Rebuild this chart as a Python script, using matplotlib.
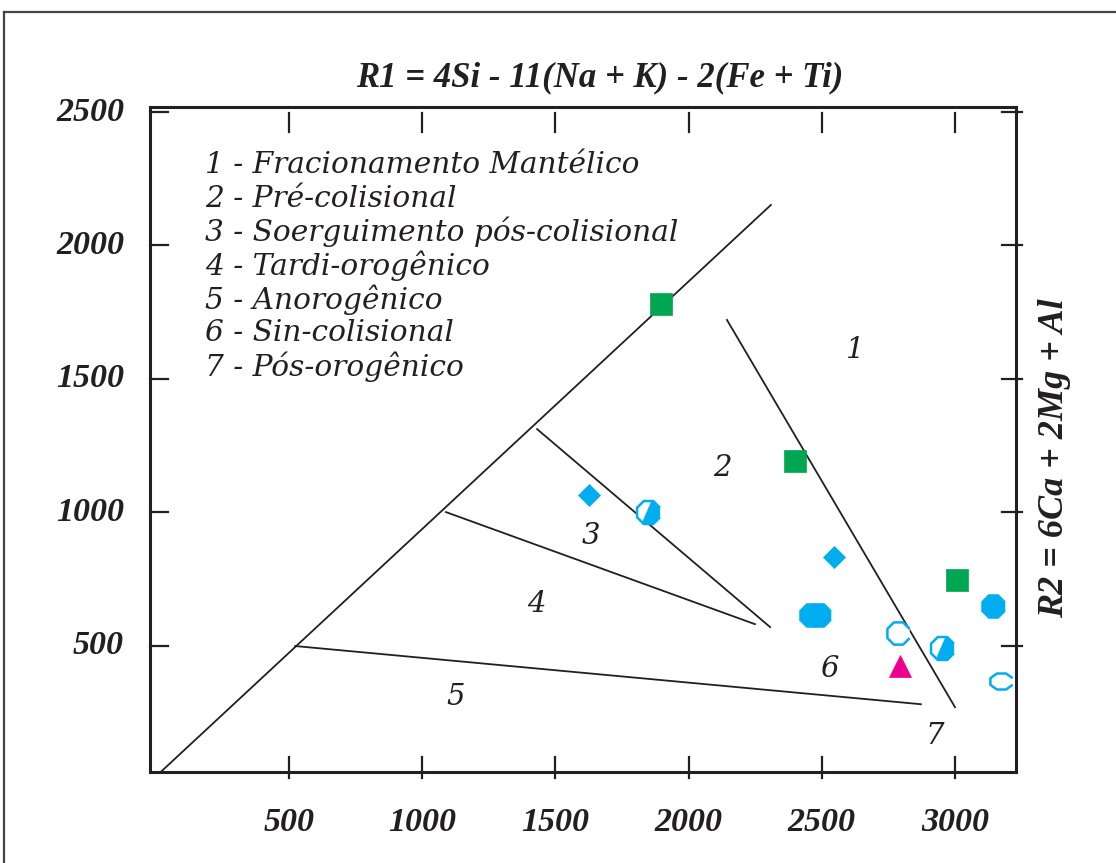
import numpy as np
import matplotlib
matplotlib.use("Agg")
import matplotlib.pyplot as plt
from matplotlib.lines import Line2D

# ---------------- data ----------------
square_r1 = [1896, 2399, 3008]
square_r2 = [1781, 1192, 746]
diamond_r1 = [1626, 2546]
diamond_r2 = [1065, 832]
filled_oct_r1 = [2459, 2489, 3143]
filled_oct_r2 = [615, 615, 649]
open_oct_r1 = [2786]
open_oct_r2 = [548]
wide_oct_r1 = [3173]
wide_oct_r2 = [368]
half_oct_r1 = [1848, 2951]
half_oct_r2 = [1001, 491]
triangle_r1 = [2794]
triangle_r2 = [424]

# field boundary lines (R1 pairs, R2 pairs)
line_main_r1 = [16, 2309]
line_main_r2 = [25, 2152]
line_12_r1 = [2144, 3000]
line_12_r2 = [1721, 270]
line_23_r1 = [1431, 2306]
line_23_r2 = [1312, 570]
line_34_r1 = [1089, 2249]
line_34_r2 = [1001, 581]
line_45_r1 = [523, 2872]
line_45_r2 = [499, 281]

field_labels = ["1", "2", "3", "4", "5", "6", "7"]
field_label_r1 = [2625, 2125, 1634, 1427, 1127, 2527, 2925]
field_label_r2 = [1608, 1166, 911, 656, 308, 413, 162]

legend_lines = [
    "1 - Fracionamento Mantélico",
    "2 - Pré-colisional",
    "3 - Soerguimento pós-colisional",
    "4 - Tardi-orogênico",
    "5 - Anorogênico",
    "6 - Sin-colisional",
    "7 - Pós-orogênico",
]

xticks = [500, 1000, 1500, 2000, 2500, 3000]
yticks = [500, 1000, 1500, 2000, 2500]
title_text = "R1 = 4Si - 11(Na + K) - 2(Fe + Ti)"
ylabel_text = "R2 = 6Ca + 2Mg + Al"

BLUE = "#00AEEF"
GREEN = "#00A651"
MAGENTA = "#EC008C"
INK = "#231F20"

# ---------------- figure ----------------
W, H = 1116, 863
fig = plt.figure(figsize=(W / 100, H / 100), dpi=100)
ax = fig.add_axes([150 / W, 1 - 772 / H, (1016 - 150) / W, (772 - 107) / H])
ax.set_xlim(-22, 3229)
ax.set_ylim(27, 2519)

# outer frame of the figure (left and top only visible)
fig.add_artist(Line2D([4 / W, 4 / W], [0, 1 - 12 / H], color="#444444", lw=1.6, transform=fig.transFigure))
fig.add_artist(Line2D([4 / W, 1.0], [1 - 12 / H, 1 - 12 / H], color="#444444", lw=1.6, transform=fig.transFigure))

for s in ax.spines.values():
    s.set_linewidth(2.2)
    s.set_color(INK)

ax.set_xticks([])
ax.set_yticks([])

# custom ticks
xt = ax.get_xaxis_transform()
yt = ax.get_yaxis_transform()
tick_kw = dict(color=INK, lw=1.6, clip_on=False)
for v in xticks:
    ax.plot([v, v], [1 - 6 / 665, 1 - 25 / 665], transform=xt, **tick_kw)    # top (detached)
    ax.plot([v, v], [-6 / 665, 15 / 665], transform=xt, **tick_kw)           # bottom (cross)
    ax.text(v, -50 / 665, str(v), transform=xt, ha="center", va="center",
            family="Liberation Serif", style="italic", weight="bold", fontsize=24.5, color=INK)
for v in yticks:
    ax.plot([0, 18 / 866], [v, v], transform=yt, **tick_kw)                  # left (in)
    ax.plot([1 - 14 / 866, 1 + 6 / 866], [v, v], transform=yt, **tick_kw)    # right (cross)
    ax.text(-26 / 866, v, str(v), transform=yt, ha="right", va="center",
            family="Liberation Serif", style="italic", weight="bold", fontsize=24.5, color=INK)

# boundary lines
for xs, ys in [(line_main_r1, line_main_r2), (line_12_r1, line_12_r2), (line_23_r1, line_23_r2),
               (line_34_r1, line_34_r2), (line_45_r1, line_45_r2)]:
    ax.plot(xs, ys, color=INK, lw=1.3, clip_on=False)

# field numbers
for t, x, y in zip(field_labels, field_label_r1, field_label_r2):
    ax.text(x, y, t, ha="center", va="center", family="DejaVu Serif", style="italic",
            fontsize=21, color=INK)

# legend text block
for i, t in enumerate(legend_lines):
    ax.text(55 / 866, (772 - 165) / 665 - i * 33.6 / 665, t, transform=ax.transAxes,
            ha="left", va="center", family="DejaVu Serif", style="italic", fontsize=21.3,
            color=INK)

# octagon marker paths
ang = np.deg2rad(np.arange(22.5, 360, 45))
oct_verts = np.column_stack([np.cos(ang), np.sin(ang)])
c, s_ = np.cos(np.deg2rad(22.5)), np.sin(np.deg2rad(22.5))
half_verts = np.array([[0.25, c], [s_, c], [c, s_], [c, -s_], [s_, -c], [-s_, -c],
                       [-0.5, -0.807], [0.25, c]])
wide_verts = oct_verts * np.array([1.0, 0.72])

# markers
ax.plot(square_r1, square_r2, ls="none", marker="s", ms=16.5, mfc=GREEN, mec=GREEN, mew=0.5)
ax.plot(diamond_r1, diamond_r2, ls="none", marker="D", ms=11.5, mfc=BLUE, mec=BLUE, mew=0.5)
ax.plot(filled_oct_r1, filled_oct_r2, ls="none", marker=oct_verts, ms=17, mfc=BLUE, mec=BLUE, mew=0.5)
ax.plot(open_oct_r1, open_oct_r2, ls="none", marker=oct_verts, ms=16, mfc="white", mec=BLUE, mew=1.8)
ax.plot(wide_oct_r1, wide_oct_r2, ls="none", marker=wide_verts, ms=16, mfc="white", mec=BLUE, mew=1.8)
ax.plot(half_oct_r1, half_oct_r2, ls="none", marker=oct_verts, ms=16.5, mfc="white", mec=BLUE, mew=1.8)
ax.plot(half_oct_r1, half_oct_r2, ls="none", marker=half_verts, ms=16.5, mfc=BLUE, mec=BLUE, mew=0.3)
ax.plot(triangle_r1, triangle_r2, ls="none", marker="^", ms=16.5, mfc=MAGENTA, mec=MAGENTA, mew=0.5)

# title and right-hand axis label
fig.text(600 / W, 1 - 78 / H, title_text, ha="center", va="center", family="Liberation Serif",
         style="italic", weight="bold", fontsize=25, color=INK)
fig.text(1055 / W, 1 - 458 / H, ylabel_text, ha="center", va="center", rotation=90,
         family="Liberation Serif", style="italic", weight="bold", fontsize=26, color=INK)

fig.savefig("out.png", dpi=100)
